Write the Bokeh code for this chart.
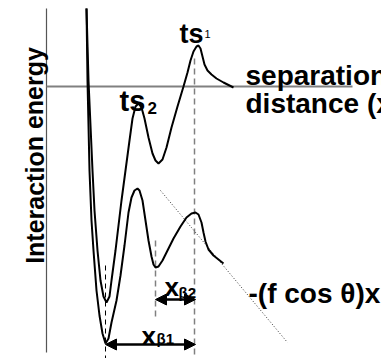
from bokeh.plotting import figure
from bokeh.models import Arrow, NormalHead, Label
from bokeh.core.properties import value
from bokeh.embed import file_html
from bokeh.resources import INLINE

# ---- data (separation distance x, interaction energy E; arbitrary units) ----
# energy landscape without force
free_x = [4.0, 4.2, 4.6, 4.8, 5.1, 5.4, 5.7, 6.0, 6.3, 6.5, 6.9, 7.5, 7.9, 8.3, 8.6, 8.9, 9.2,
          9.5, 9.8, 10.2, 10.6, 10.9, 11.2, 11.6, 12.0, 12.5, 13.1, 13.7, 14.1, 14.4, 14.7,
          15.0, 15.2, 15.4, 15.6, 15.8, 16.1, 16.5, 17.0, 17.7, 18.7]
free_e = [7.8, 0.6, -8.4, -12.4, -16.4, -19.4, -21.0, -21.6, -21.0, -19.4, -16.4, -11.4, -8.4,
          -5.4, -3.2, -2.0, -1.7, -2.1, -3.2, -5.1, -6.7, -7.4, -7.7, -7.3, -6.1, -4.1, -2.0,
          0.0, 1.4, 2.6, 3.5, 4.0, 4.1, 3.8, 3.0, 2.2, 1.6, 1.2, 0.8, 0.4, -0.1]
# energy landscape tilted by the applied force
forced_x = [4.0, 4.1, 4.3, 4.5, 4.7, 5.0, 5.3, 5.6, 5.9, 6.2, 6.5, 7.0, 7.4, 7.8, 8.2, 8.5, 8.8,
            9.1, 9.3, 9.6, 9.9, 10.2, 10.5, 10.7, 10.9, 11.2, 11.6, 12.1, 12.7, 13.4, 14.0,
            14.5, 14.9, 15.2, 15.5, 15.7, 15.9, 16.2, 16.7, 17.2, 17.7]
forced_e = [7.8, 0.6, -8.4, -13.4, -16.4, -20.4, -22.9, -24.7, -25.7, -25.2, -23.6, -21.4,
            -18.9, -15.9, -12.6, -11.1, -10.4, -10.2, -10.4, -11.4, -13.4, -15.4, -17.0, -17.8,
            -18.1, -18.0, -17.4, -16.4, -15.2, -14.0, -13.1, -12.7, -12.6, -12.8, -13.6, -14.6,
            -15.5, -16.3, -16.9, -17.3, -17.7]
# force term -(f cos θ)x
force_x = [11.4, 24.1]
force_e = [-10.4, -25.6]
# reference positions: bound state (forced), ts2, ts1
x_bound = 5.9
x_ts2 = 10.9
x_ts1 = 14.8

p = figure(width=381, height=358, x_range=(-4.6, 33.5), y_range=(-27.2, 8.6),
           x_axis_type=None, y_axis_type=None, output_backend="svg",
           toolbar_location=None, min_border=0, outline_line_color=None,
           background_fill_color="white", border_fill_color="white")
p.grid.visible = False

# axes drawn as lines
p.line([0, 0], [7.8, -26.6], line_color="#555555", line_width=1.2)
p.line([0, 30.6], [0, 0], line_color="#808080", line_width=1.8)

# dashed guides
p.line([x_bound, x_bound], [-17.9, -27.5], line_color="black", line_width=1, line_dash="5 4")
p.line([x_ts2, x_ts2], [-15.4, -23.4], line_color="#808080", line_width=1.5, line_dash="6 4")
p.line([x_ts1, x_ts1], [2.8, -27.5], line_color="#808080", line_width=1.5, line_dash="6 4")

# force line
p.line(force_x, force_e, line_color="#333333", line_width=1, line_dash="1 2")

# curves
p.line(free_x, free_e, line_color="black", line_width=2)
p.line(forced_x, forced_e, line_color="black", line_width=2)

# distance arrows
for xs, xe, yy in [(x_ts2, x_ts1 + 0.1, -21.3), (x_bound, x_ts1 + 0.1, -25.8)]:
    p.add_layout(Arrow(start=NormalHead(size=11, fill_color="black", line_color="black"),
                       end=NormalHead(size=11, fill_color="black", line_color="black"),
                       x_start=xs, y_start=yy, x_end=xe, y_end=yy,
                       line_color="black", line_width=2.5))

F = value("Liberation Sans")

def txt(x, y, t, size, style="bold", align="left"):
    p.text(x=[x], y=[y], text=[t], text_font=F, text_font_style=style,
           text_font_size=size, text_color="black", text_baseline="alphabetic",
           text_align=align)

txt(13.3, 5.3, "ts", "27px")
txt(15.8, 5.3, "1", "11px", style="normal")
txt(7.3, -1.4, "ts", "29px")
txt(10.1, -2.1, "2", "17px")
txt(19.9, 1.1, "separation", "28px")
txt(19.9, -1.7, "distance (x)", "28px")
txt(20.2, -20.7, "-(f cos θ)x", "28px")
txt(11.8, -20.0, "x", "26px")
txt(13.2, -20.6, "β2", "15px")
txt(9.5, -24.9, "x", "26px")
txt(11.0, -25.2, "β1", "15px")

p.add_layout(Label(x=-1.2, y=-6.9, text="Interaction energy", angle=1.5708,
                   text_font="Liberation Sans", text_font_style="bold",
                   text_font_size="25px", text_color="black",
                   text_baseline="alphabetic", text_align="center"))

open("out.html", "w").write(file_html(p, INLINE))
